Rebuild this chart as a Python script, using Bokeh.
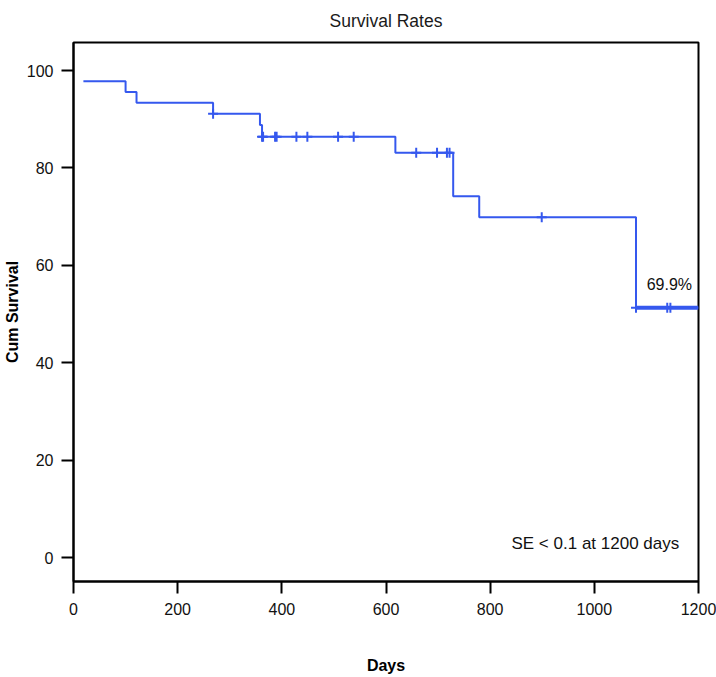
from bokeh.plotting import figure
from bokeh.models import Label, Range1d, FixedTicker
from bokeh.embed import file_html
from bokeh.resources import INLINE

# Kaplan-Meier step points (day, cumulative survival %)
step_days = [19, 100, 121, 268, 358, 362, 618, 729, 779, 1080, 1200]
step_surv = [97.8, 95.6, 93.4, 91.1, 88.8, 86.4, 83.1, 74.2, 69.9, 51.3, 51.3]

# censored observations
censor_days = [268, 362, 364, 387, 390, 428, 449, 508, 538,
               658, 698, 717, 722, 899, 1080, 1140, 1146]
censor_surv = [91.1, 86.4, 86.4, 86.4, 86.4, 86.4, 86.4, 86.4, 86.4,
               83.1, 83.1, 83.1, 83.1, 69.9, 51.3, 51.3, 51.3]

x_ticks = [0, 200, 400, 600, 800, 1000, 1200]
y_ticks = [0, 20, 40, 60, 80, 100]

title_text = "Survival Rates"
x_title = "Days"
y_title = "Cum Survival"

FONT = "Liberation Sans"
BLUE = "#3558ee"

p = figure(width=716, height=677, output_backend="svg", toolbar_location=None,
           x_range=Range1d(0, 1200), y_range=Range1d(-4.9, 105.75),
           title=title_text,
           min_border_left=73, min_border_right=18, min_border_bottom=96, min_border_top=0)

p.title.align = "center"
p.title.vertical_align = "top"
p.title.text_font = FONT
p.title.text_font_size = "17.5px"
p.title.text_font_style = "normal"
p.title.text_color = "#1a1a1a"
p.title.standoff = 20

# stepped survival line
xs, ys = [], []
for i, (d, s) in enumerate(zip(step_days, step_surv)):
    if i > 0:
        xs.append(d)
        ys.append(step_surv[i - 1])
    xs.append(d)
    ys.append(s)
p.line(xs, ys, line_color=BLUE, line_width=2)
# final plateau drawn heavier
p.line(step_days[-2:], step_surv[-2:], line_color=BLUE, line_width=4)

p.scatter(censor_days, censor_surv, marker="cross", size=10, line_color=BLUE, line_width=2)

p.add_layout(Label(x=1144, y=56.1, text="69.9%", text_font=FONT, text_font_size="16px",
                   text_align="center", text_baseline="middle", text_color="#111111"))
p.add_layout(Label(x=1163, y=3.0, text="SE < 0.1 at 1200 days", text_font=FONT,
                   text_font_size="17px", text_align="right", text_baseline="middle",
                   text_color="#111111"))

p.grid.visible = False
p.outline_line_color = "black"
p.outline_line_width = 2
p.outline_line_alpha = 1

for ax in (p.xaxis[0], p.yaxis[0]):
    ax.axis_line_width = 2
    ax.major_tick_line_width = 2
    ax.major_tick_out = 12
    ax.major_tick_in = 0
    ax.minor_tick_line_color = None
    ax.major_label_text_font = FONT
    ax.major_label_text_font_size = "16px"
    ax.major_label_text_color = "#111111"
    ax.axis_label_text_font = FONT
    ax.axis_label_text_font_size = "16px"
    ax.axis_label_text_font_style = "bold"
    ax.axis_label_text_color = "black"

p.xaxis[0].ticker = FixedTicker(ticks=x_ticks)
p.yaxis[0].ticker = FixedTicker(ticks=y_ticks)
p.xaxis[0].axis_label = x_title
p.yaxis[0].axis_label = y_title
p.xaxis[0].axis_label_standoff = 39
p.yaxis[0].axis_label_standoff = 3
p.xaxis[0].major_label_standoff = 9
p.yaxis[0].major_label_standoff = 8

open("out.html", "w").write(file_html(p, INLINE))
